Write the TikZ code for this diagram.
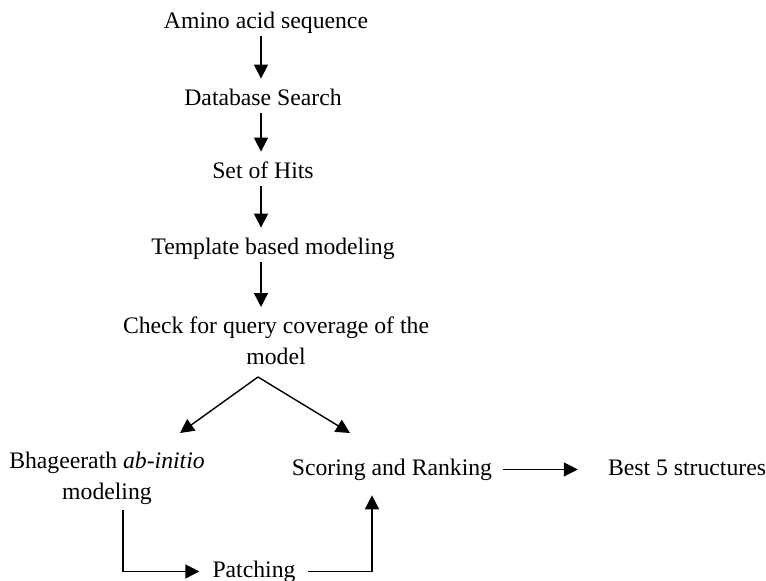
\documentclass[tikz,border=0pt]{standalone}
\usepackage{fontspec}
\setmainfont{Liberation Serif}
\usetikzlibrary{arrows.meta, positioning, calc}

\begin{document}
\begin{tikzpicture}[x=1pt,y=-1pt,
    lbl/.style={inner sep=1pt, font=\fontsize{23.7}{30.5}\selectfont, text height=16.2pt, text depth=5.1pt},
    lbltwo/.style={inner sep=1pt, font=\fontsize{23.7}{30.5}\selectfont, align=center},
    flow/.style={line width=1.4pt, -{Triangle[length=14pt,width=14pt]}}]
    \useasboundingbox (0,0) rectangle (766,581);

    \def\axis{261}

    % main column
    \node[lbl,anchor=base] (amino) at (266,28) {Amino acid sequence};
    \node[lbl,anchor=base] (db) at (263,105) {Database Search};
    \node[lbl,anchor=base] (hits) at (263,178) {Set of Hits};
    \node[lbl,anchor=base] (tmpl) at (273,254) {Template based modeling};
    \node[lbltwo,anchor=north] (check) at (276,316) {Check for query coverage of the\\model};

    % second row
    \node[lbltwo,anchor=north] (bhag) at (107,451) {Bhageerath \textit{ab-initio}\\modeling};
    \node[lbl,anchor=base] (scoring) at (392,475) {Scoring and Ranking};
    \node[lbl,anchor=base] (best) at (687,475) {Best 5 structures};
    \node[lbl,anchor=base] (patch) at (254,577) {Patching};

    \coordinate (axis) at (\axis,0);
    \coordinate (split) at (258,377);
    \coordinate (tobhag) at (180,433);
    \coordinate (toscore) at (350,433);
    \coordinate (drop) at (123,0);
    \coordinate (rise) at (372,0);

    % down the column
    \draw[flow,shorten <=2pt,shorten >=9pt] (amino.south -| axis) -- (db.north -| axis);
    \draw[flow,shorten <=2pt,shorten >=9pt] (db.south -| axis) -- (hits.north -| axis);
    \draw[flow,shorten <=2pt,shorten >=9pt] (hits.south -| axis) -- (tmpl.north -| axis);
    \draw[flow,shorten <=2pt,shorten >=9pt] (tmpl.south -| axis) -- (check.north -| axis);

    % split
    \draw[flow] (split) -- (tobhag);
    \draw[flow] (split) -- (toscore);

    % ab-initio branch
    \draw[flow,shorten <=5pt,shorten >=12pt] (bhag.south -| drop) |- (patch.west);
    \draw[flow,shorten <=11pt,shorten >=14pt] (patch.east) -| (scoring.south -| rise);

    \draw[flow,shorten <=10pt,shorten >=29pt] (scoring.east) -- (best.west);
\end{tikzpicture}
\end{document}
